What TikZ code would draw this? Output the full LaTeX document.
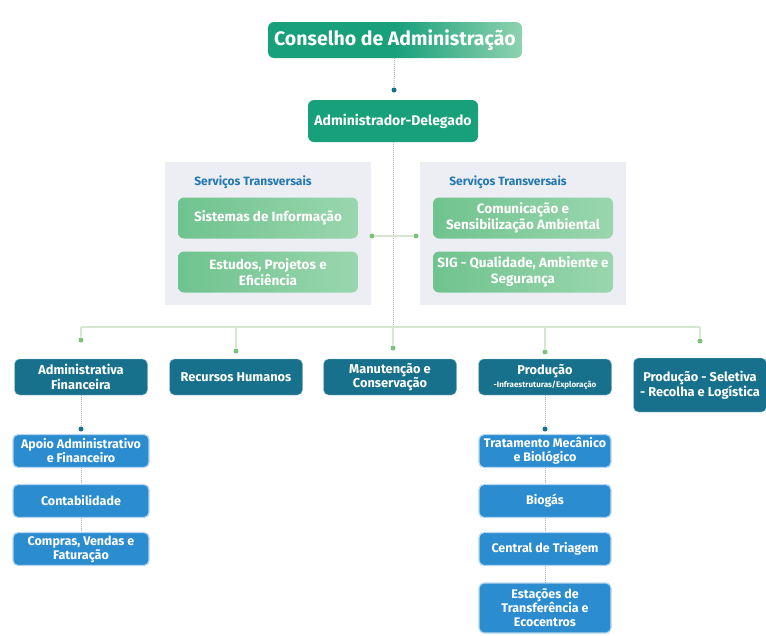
\documentclass[tikz,border=0pt]{standalone}
\usepackage{fontspec}
\setmainfont{Fira Sans}
\usepackage{tikz}

\definecolor{topgreen}{HTML}{17A07A}
\definecolor{topgreenlt}{HTML}{8FD2B0}
\definecolor{paneg}{HTML}{ECEEF3}
\definecolor{lightg}{HTML}{6FC38E}
\definecolor{lightglt}{HTML}{9AD6AE}
\definecolor{titleblue}{HTML}{2478B0}
\definecolor{darkteal}{HTML}{17718C}
\definecolor{midblue}{HTML}{2B8CCF}
\definecolor{busgreen}{HTML}{D4E8D0}
\definecolor{dotgreen}{HTML}{7DC27A}

\begin{document}
\begin{tikzpicture}[x=1pt,y=-1pt]
  \tikzstyle{top} = [rounded corners=6pt, left color=topgreen, right color=topgreenlt, middle color=topgreen, text=white, font=\bfseries\fontsize{19.5}{22}\selectfont, minimum width=254, minimum height=36, inner sep=0pt]
  \tikzstyle{ceo} = [rounded corners=6pt, fill=topgreen, text=white, font=\bfseries\fontsize{14}{16}\selectfont, minimum width=170, minimum height=42, inner sep=0pt]
  \tikzstyle{pane} = [fill=paneg, minimum width=206, minimum height=143, inner sep=0pt]
  \tikzstyle{ptitle} = [text=titleblue, font=\bfseries\fontsize{12}{14}\selectfont, inner sep=0pt]
  \tikzstyle{svc} = [rounded corners=6pt, left color=lightg, right color=lightglt, text=white, font=\bfseries\fontsize{13.5}{15.5}\selectfont, align=center, minimum width=180, minimum height=41, inner sep=0pt]
  \tikzstyle{dept} = [rounded corners=5pt, fill=darkteal, draw=darkteal!40, text=white, font=\bfseries\fontsize{12.8}{14.5}\selectfont, align=center, minimum width=133, minimum height=36, inner sep=0pt]
  \tikzstyle{unit} = [rounded corners=5pt, fill=midblue, draw=midblue!35, line width=1.2pt, text=white, font=\bfseries\fontsize{12.5}{14}\selectfont, align=center, minimum width=136, minimum height=33, inner sep=0pt]
  \tikzstyle{dotline} = [gray!60, densely dotted, line width=1pt]
  \tikzstyle{busline} = [busgreen, line width=2pt]
  \tikzstyle{dotd} = [circle, fill=darkteal, inner sep=0pt, minimum size=5pt]
  \tikzstyle{dotg} = [circle, fill=dotgreen, inner sep=0pt, minimum size=5pt]

  \useasboundingbox (0,0) rectangle (766,635);

  % top levels
  \node[top] (conselho) at (395,40) {Conselho de Administração};
  \node[dotd] (dc) at (394,90) {};
  \node[ceo] (admdel) at (393,121) {Administrador-Delegado};

  % transversal services
  \node[pane] (paneL) at (268,233) {};
  \node[pane] (paneR) at (523,233) {};
  \node[ptitle] (titL) at (253,182) {Serviços Transversais};
  \node[ptitle] (titR) at (508,182) {Serviços Transversais};
  \node[svc] (sinf) at (268,218) {Sistemas de Informação};
  \node[svc] (estud) at (268,272) {Estudos, Projetos e\\Eficiência};
  \node[svc] (comun) at (523,218) {Comunicação e\\Sensibilização Ambiental};
  \node[svc] (sig) at (523,272) {SIG - Qualidade, Ambiente e\\Segurança};

  \coordinate (mid) at (393,236);
  \node[dotg] (dl) at (372,236) {};
  \node[dotg] (dr) at (416,236) {};

  % departments
  \node[dept] (adfin) at (81,377) {Administrativa\\Financeira};
  \node[dept] (rh) at (236,377) {Recursos Humanos};
  \node[dept] (manut) at (390,377) {Manutenção e\\Conservação};
  \node[dept] (prod) at (545,377) {Produção\\[-2pt]{\fontsize{8}{9}\selectfont -Infraestruturas/Exploração}};
  \node[dept, minimum height=54] (prodsel) at (700,385) {Produção - Seletiva\\- Recolha e Logística};

  \coordinate (busA) at (81,327);
  \coordinate (busB) at (236,327);
  \coordinate (busC) at (393,327);
  \coordinate (busD) at (545,327);
  \coordinate (busE) at (700,327);
  \node[dotg] (dA) at (81,340) {};
  \node[dotg] (dB) at (236,351) {};
  \node[dotg] (dC) at (393,348) {};
  \node[dotg] (dD) at (545,352) {};
  \node[dotg] (dE) at (700,341) {};

  % units
  \node[dotd] (dF) at (81,429) {};
  \node[unit] (apoio) at (81,451) {Apoio Administrativo\\e Financeiro};
  \node[unit] (conta) at (81,501) {Contabilidade};
  \node[unit] (compras) at (81,549) {Compras, Vendas e\\Faturação};

  \node[dotd] (dP) at (545,429) {};
  \node[unit, minimum width=132] (tmb) at (545,451) {Tratamento Mecânico\\e Biológico};
  \node[unit, minimum width=132] (biog) at (545,501) {Biogás};
  \node[unit, minimum width=132] (ctri) at (545,549) {Central de Triagem};
  \node[unit, minimum width=132, minimum height=50] (estac) at (545,608) {Estações de\\Transferência e\\Ecocentros};

  % connectors
  \draw[dotline] (conselho) -- (dc);
  \draw[dotline] (admdel) -- (busC);
  \draw[busline] (dl) -- (dr);
  \draw[busline] (busA) -- (busE);
  \draw[busline] (busA) -- (dA);
  \draw[busline] (busB) -- (dB);
  \draw[busline] (busC) -- (dC);
  \draw[busline] (busD) -- (dD);
  \draw[busline] (busE) -- (dE);
  \draw[dotline] (adfin) -- (dF);
  \draw[dotline] (apoio) -- (conta);
  \draw[dotline] (conta) -- (compras);
  \draw[dotline] (prod) -- (dP);
  \draw[dotline] (tmb) -- (biog);
  \draw[dotline] (biog) -- (ctri);
  \draw[dotline] (ctri) -- (estac);
\end{tikzpicture}
\end{document}
